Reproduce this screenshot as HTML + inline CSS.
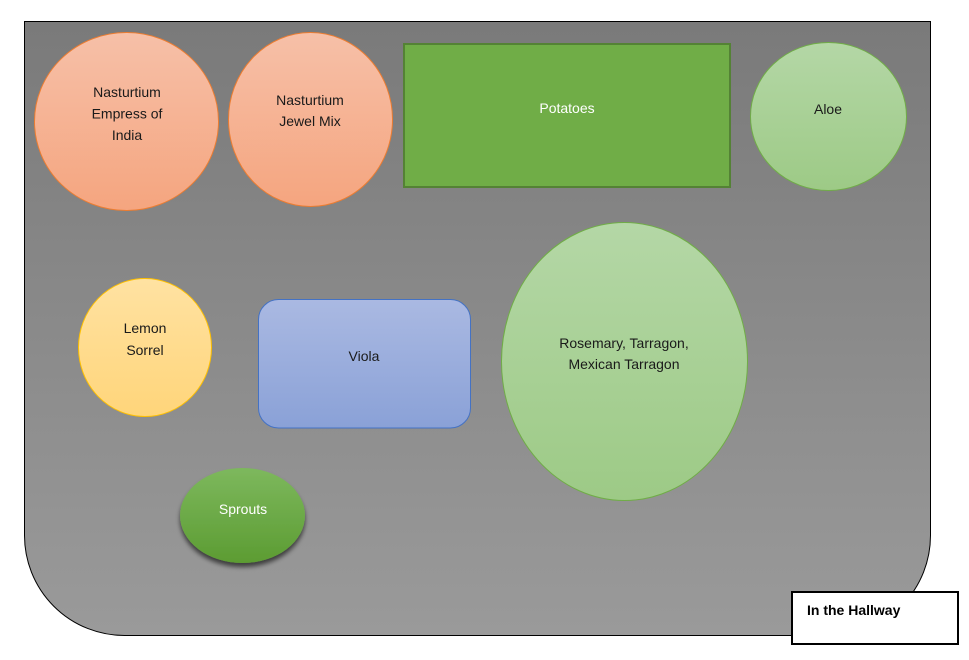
<!DOCTYPE html>
<html><head><meta charset="utf-8"><style>
html,body{margin:0;padding:0;background:#fff;width:969px;height:660px;overflow:hidden}
svg{display:block}
text{font-family:"Liberation Sans",sans-serif;font-size:14px;text-anchor:middle;dominant-baseline:central}
</style></head><body>
<svg width="969" height="660" viewBox="0 0 969 660" xmlns="http://www.w3.org/2000/svg">
<defs>
<linearGradient id="gray" x1="0" y1="0" x2="0" y2="1"><stop offset="0" stop-color="#7a7a7a"/><stop offset="1" stop-color="#9a9a9a"/></linearGradient>
<linearGradient id="orange" x1="0" y1="0" x2="0" y2="1"><stop offset="0" stop-color="#f6c0a8"/><stop offset="1" stop-color="#f5a57f"/></linearGradient>
<linearGradient id="yellow" x1="0" y1="0" x2="0" y2="1"><stop offset="0" stop-color="#ffe2a2"/><stop offset="1" stop-color="#ffd57a"/></linearGradient>
<linearGradient id="blue" x1="0" y1="0" x2="0" y2="1"><stop offset="0" stop-color="#aab9e2"/><stop offset="1" stop-color="#8aa1d7"/></linearGradient>
<linearGradient id="lgreen" x1="0" y1="0" x2="0" y2="1"><stop offset="0" stop-color="#b4d7a6"/><stop offset="1" stop-color="#9dca86"/></linearGradient>
<linearGradient id="dgreen" x1="0" y1="0" x2="0" y2="1"><stop offset="0" stop-color="#7db85d"/><stop offset="1" stop-color="#5c9c32"/></linearGradient>
<filter id="sh" x="-20%" y="-20%" width="140%" height="150%"><feGaussianBlur in="SourceAlpha" stdDeviation="2.5"/><feOffset dy="4"/><feComponentTransfer><feFuncA type="linear" slope="0.6"/></feComponentTransfer><feMerge><feMergeNode/><feMergeNode in="SourceGraphic"/></feMerge></filter>
</defs>
<path d="M24.5 21.5 H930.5 V535 A100 100 0 0 1 830 635.5 H125 A100 100 0 0 1 24.5 535 Z" fill="url(#gray)" stroke="#000" stroke-width="1"/>
<ellipse cx="126.5" cy="121.5" rx="92" ry="89" fill="url(#orange)" stroke="#ed7d31" stroke-width="1"/>
<text x="127" y="92" fill="#1a1a1a">Nasturtium</text>
<text x="127" y="113.5" fill="#1a1a1a">Empress of</text>
<text x="127" y="135" fill="#1a1a1a">India</text>
<ellipse cx="310.5" cy="119.5" rx="82" ry="87" fill="url(#orange)" stroke="#ed7d31" stroke-width="1"/>
<text x="310" y="100" fill="#1a1a1a">Nasturtium</text>
<text x="310" y="121" fill="#1a1a1a">Jewel Mix</text>
<rect x="404" y="44" width="326" height="143" fill="#70ad47" stroke="#548235" stroke-width="2"/>
<text x="567" y="108" fill="#fff" style="font-weight:500">Potatoes</text>
<ellipse cx="828.5" cy="116.5" rx="78" ry="74" fill="url(#lgreen)" stroke="#70ad47" stroke-width="1"/>
<text x="828" y="109" fill="#1a1a1a">Aloe</text>
<ellipse cx="145" cy="347.5" rx="66.5" ry="69" fill="url(#yellow)" stroke="#ffc000" stroke-width="1"/>
<text x="145" y="328" fill="#1a1a1a">Lemon</text>
<text x="145" y="350" fill="#1a1a1a">Sorrel</text>
<rect x="258.5" y="299.5" width="212" height="128.5" rx="20" ry="20" fill="url(#blue)" stroke="#4472c4" stroke-width="1"/>
<text x="364" y="356" fill="#1a1a1a">Viola</text>
<ellipse cx="624.5" cy="361.5" rx="123" ry="139" fill="url(#lgreen)" stroke="#70ad47" stroke-width="1"/>
<text x="624" y="343" fill="#1a1a1a">Rosemary, Tarragon,</text>
<text x="624" y="364" fill="#1a1a1a">Mexican Tarragon</text>
<ellipse cx="242.5" cy="515.5" rx="62.5" ry="47.5" fill="url(#dgreen)" filter="url(#sh)"/>
<text x="243" y="509" fill="#fff" style="font-weight:500">Sprouts</text>
<rect x="792" y="592" width="166" height="52" fill="#fff" stroke="#000" stroke-width="2"/>
<text x="807" y="610" fill="#000" style="text-anchor:start;font-weight:bold;font-size:14px">In the Hallway</text>
</svg>
</body></html>
